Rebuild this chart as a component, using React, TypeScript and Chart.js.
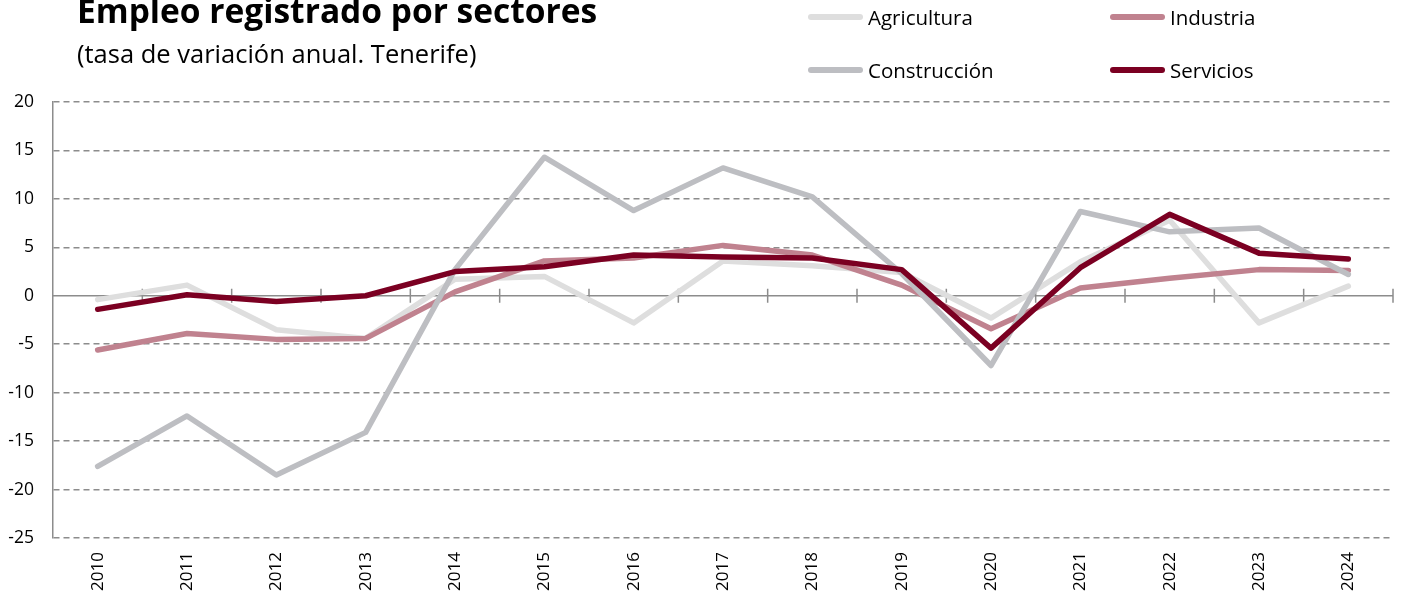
import React, { useEffect, useRef } from 'react';
import { Chart, registerables } from 'chart.js';

Chart.register(...registerables);

const years = ['2010', '2011', '2012', '2013', '2014', '2015', '2016', '2017', '2018', '2019', '2020', '2021', '2022', '2023', '2024'];
const agricultura = [-0.4, 1.1, -3.5, -4.4, 1.7, 2.0, -2.8, 3.6, 3.1, 2.4, -2.3, 3.5, 7.8, -2.8, 1.0];
const industria = [-5.6, -3.9, -4.5, -4.4, 0.4, 3.6, 3.9, 5.2, 4.2, 1.1, -3.4, 0.8, 1.8, 2.7, 2.6];
const construccion = [-17.6, -12.4, -18.5, -14.1, 2.7, 14.3, 8.8, 13.2, 10.2, 2.3, -7.2, 8.7, 6.6, 7.0, 2.2];
const servicios = [-1.4, 0.1, -0.6, 0.0, 2.5, 3.0, 4.2, 4.0, 3.9, 2.7, -5.4, 2.9, 8.4, 4.4, 3.8];

const seriesNames = ['Agricultura', 'Industria', 'Construcción', 'Servicios'];
const seriesColors = ['#dedede', '#c0828f', '#bdbec2', '#7b0022'];

const FONT = '"Open Sans", Lato, sans-serif';
const AXIS_COLOR = '#8c8c8c';

const zeroAxisPlugin = {
  id: 'zeroAxis',
  beforeDatasetsDraw(chart: any) {
    const { ctx, chartArea, scales } = chart;
    const y = scales.y.getPixelForValue(0);
    const n = years.length;
    const step = (chartArea.right - chartArea.left) / n;
    ctx.save();
    ctx.strokeStyle = AXIS_COLOR;
    ctx.lineWidth = 1.5;
    ctx.beginPath();
    ctx.moveTo(chartArea.left, y);
    ctx.lineTo(chartArea.right, y);
    for (let k = 1; k <= n; k++) {
      const x = chartArea.left + k * step;
      ctx.moveTo(x, y - 7);
      ctx.lineTo(x, y + 7);
    }
    ctx.stroke();
    ctx.restore();
  },
};

export default function App() {
  const canvasRef = useRef<HTMLCanvasElement | null>(null);

  useEffect(() => {
    const canvas = canvasRef.current;
    if (!canvas) return;
    const allData = [agricultura, industria, construccion, servicios];
    const chart = new Chart(canvas, {
      type: 'line',
      data: {
        labels: years,
        datasets: allData.map((d, i) => ({
          label: seriesNames[i],
          data: d,
          borderColor: seriesColors[i],
          backgroundColor: seriesColors[i],
          borderWidth: 5.5,
          pointRadius: 0,
          tension: 0,
          borderCapStyle: 'round' as const,
          borderJoinStyle: 'round' as const,
          order: 3 - i,
        })),
      },
      options: {
        responsive: false,
        animation: false,
        devicePixelRatio: 1,
        layout: { padding: { top: 102, right: 10, left: 0, bottom: 0 } },
        plugins: {
          legend: { display: false },
          tooltip: { enabled: false },
          title: { display: false },
        },
        scales: {
          x: {
            type: 'category',
            offset: true,
            grid: { display: false, drawTicks: false },
            border: { display: false },
            ticks: {
              minRotation: 90,
              maxRotation: 90,
              padding: 14,
              color: '#000',
              font: { family: FONT, size: 17 },
            },
            afterFit: (scale: any) => {
              scale.height = 60;
            },
          },
          y: {
            min: -25,
            max: 20,
            ticks: {
              stepSize: 5,
              padding: 19,
              color: '#000',
              font: { family: FONT, size: 17.5 },
            },
            grid: {
              drawTicks: false,
              lineWidth: 1.5,
              color: (ctx: any) => (ctx.tick && ctx.tick.value === 0 ? 'rgba(0,0,0,0)' : AXIS_COLOR),
            },
            border: { display: true, color: AXIS_COLOR, width: 1.5, dash: [6, 4] },
            afterFit: (scale: any) => {
              scale.width = 53;
            },
          },
        },
      },
      plugins: [zeroAxisPlugin],
    });
    return () => chart.destroy();
  }, []);

  const legendItems = [
    { name: seriesNames[0], color: seriesColors[0], x: 808, y: 17 },
    { name: seriesNames[1], color: seriesColors[1], x: 1110, y: 17 },
    { name: seriesNames[2], color: seriesColors[2], x: 808, y: 70 },
    { name: seriesNames[3], color: seriesColors[3], x: 1110, y: 70 },
  ];

  return (
    <div style={{ position: 'fixed', left: 0, top: 0, width: 1403, height: 598, background: '#fff', overflow: 'hidden', fontFamily: FONT }}>
      <canvas ref={canvasRef} width={1403} height={598} style={{ position: 'absolute', left: 0, top: 0, width: 1403, height: 598 }} />
      <div style={{ position: 'absolute', left: 77, top: -13, fontSize: 33.5, fontWeight: 700, lineHeight: '46px', color: '#000', whiteSpace: 'nowrap' }}>
        Empleo registrado por sectores
      </div>
      <div style={{ position: 'absolute', left: 77, top: 36, fontSize: 25.5, lineHeight: '34px', color: '#000', whiteSpace: 'nowrap' }}>
        (tasa de variación anual. Tenerife)
      </div>
      {legendItems.map((it) => (
        <div key={it.name} style={{ position: 'absolute', left: it.x, top: it.y - 15, height: 30, display: 'flex', alignItems: 'center', whiteSpace: 'nowrap' }}>
          <div style={{ width: 55, height: 5.5, borderRadius: 3, background: it.color, marginRight: 5 }} />
          <span style={{ fontSize: 20.5, lineHeight: '30px', color: '#000' }}>{it.name}</span>
        </div>
      ))}
    </div>
  );
}
